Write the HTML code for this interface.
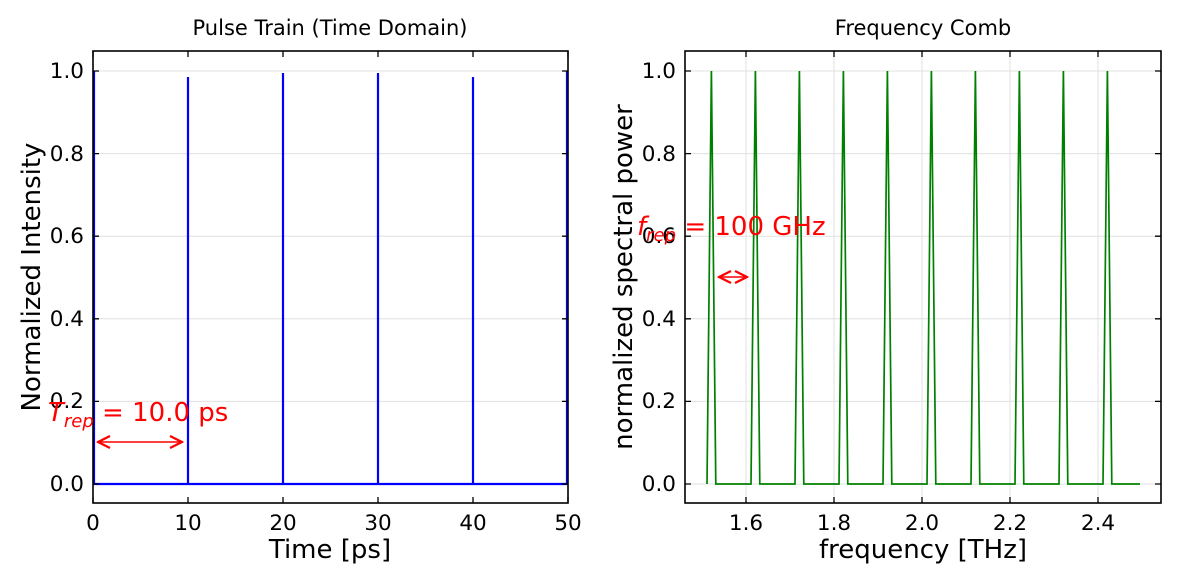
<!DOCTYPE html>
<html><head><style>body{margin:0;background:#fff}</style></head><body>
<svg width="1179" height="583" xmlns="http://www.w3.org/2000/svg" font-family="DejaVu Sans, Liberation Sans, sans-serif">
<defs><marker id="ah" markerWidth="10" markerHeight="10" refX="9" refY="5" orient="auto-start-reverse"><path d="M1,1 L9,5 L1,9" fill="none" stroke="red" stroke-width="1.5"/></marker></defs>
<g stroke="#e0e0e0" stroke-width="1">
<line x1="93" x2="568" y1="71" y2="71"/><line x1="93" x2="568" y1="153.6" y2="153.6"/><line x1="93" x2="568" y1="236.2" y2="236.2"/><line x1="93" x2="568" y1="318.8" y2="318.8"/><line x1="93" x2="568" y1="401.4" y2="401.4"/><line x1="93" x2="568" y1="484" y2="484"/>
<line x1="685" x2="1161" y1="71" y2="71"/><line x1="685" x2="1161" y1="153.6" y2="153.6"/><line x1="685" x2="1161" y1="236.2" y2="236.2"/><line x1="685" x2="1161" y1="318.8" y2="318.8"/><line x1="685" x2="1161" y1="401.4" y2="401.4"/><line x1="685" x2="1161" y1="484" y2="484"/>
<line x1="746" x2="746" y1="51" y2="503"/><line x1="834" x2="834" y1="51" y2="503"/><line x1="922" x2="922" y1="51" y2="503"/><line x1="1010" x2="1010" y1="51" y2="503"/><line x1="1098" x2="1098" y1="51" y2="503"/>
</g>
<g stroke="blue" stroke-width="2.2" fill="none">
<line x1="93" y1="484" x2="568" y2="484"/>
<line x1="94" y1="484" x2="94" y2="71"/>
<line x1="188" y1="484" x2="188" y2="77"/>
<line x1="283" y1="484" x2="283" y2="73"/>
<line x1="378" y1="484" x2="378" y2="73"/>
<line x1="473" y1="484" x2="473" y2="77"/>
<line x1="567" y1="484" x2="567" y2="71"/>
</g>
<path fill="none" stroke="green" stroke-width="1.7" d="M707,484 L711.4,71 L715.8,484 L751,484 L755.4,71 L759.8,484 L795,484 L799.4,71 L803.8,484 L839,484 L843.4,71 L847.8,484 L883,484 L887.4,71 L891.8,484 L927,484 L931.4,71 L935.8,484 L971,484 L975.4,71 L979.8,484 L1015,484 L1019.4,71 L1023.8,484 L1059,484 L1063.4,71 L1067.8,484 L1103,484 L1107.4,71 L1111.8,484 L1140,484"/>
<rect x="93" y="51" width="475" height="452" fill="none" stroke="#000" stroke-width="1.6"/>
<rect x="685" y="51" width="476" height="452" fill="none" stroke="#000" stroke-width="1.6"/>
<g stroke="#000" stroke-width="1.3">
<path d="M93,503v-6M188,503v-6M283,503v-6M378,503v-6M473,503v-6M568,503v-6M93,51v6M188,51v6M283,51v6M378,51v6M473,51v6M568,51v6"/>
<path d="M93,71h6M93,153.6h6M93,236.2h6M93,318.8h6M93,401.4h6M93,484h6M568,71h-6M568,153.6h-6M568,236.2h-6M568,318.8h-6M568,401.4h-6M568,484h-6"/>
<path d="M746,503v-6M834,503v-6M922,503v-6M1010,503v-6M1098,503v-6M746,51v6M834,51v6M922,51v6M1010,51v6M1098,51v6"/>
<path d="M685,71h6M685,153.6h6M685,236.2h6M685,318.8h6M685,401.4h6M685,484h6M1161,71h-6M1161,153.6h-6M1161,236.2h-6M1161,318.8h-6M1161,401.4h-6M1161,484h-6"/>
</g>
<g font-size="21.5" fill="#000">
<g text-anchor="end">
<text x="84" y="78">1.0</text><text x="84" y="161">0.8</text><text x="84" y="243">0.6</text><text x="84" y="326">0.4</text><text x="84" y="408">0.2</text><text x="84" y="491">0.0</text>
<text x="676" y="78">1.0</text><text x="676" y="161">0.8</text><text x="676" y="243">0.6</text><text x="676" y="326">0.4</text><text x="676" y="408">0.2</text><text x="676" y="491">0.0</text>
</g>
<g text-anchor="middle">
<text x="93" y="530">0</text><text x="188" y="530">10</text><text x="283" y="530">20</text><text x="378" y="530">30</text><text x="473" y="530">40</text><text x="568" y="530">50</text>
<text x="746" y="530">1.6</text><text x="834" y="530">1.8</text><text x="922" y="530">2.0</text><text x="1010" y="530">2.2</text><text x="1098" y="530">2.4</text>
</g>
</g>
<g font-size="26" text-anchor="middle">
<text x="330" y="558">Time [ps]</text>
<text x="923" y="558">frequency [THz]</text>
<text transform="translate(40,277) rotate(-90)">Normalized Intensity</text>
<text transform="translate(632,277) rotate(-90)">normalized spectral power</text>
</g>
<g font-size="21" text-anchor="middle">
<text x="330" y="35">Pulse Train (Time Domain)</text>
<text x="923" y="35">Frequency Comb</text>
</g>
<line x1="98" y1="442" x2="182" y2="442" stroke="red" stroke-width="1.5" marker-start="url(#ah)" marker-end="url(#ah)"/>
<text x="48" y="421" font-size="26" fill="red"><tspan font-style="italic">T</tspan><tspan font-style="italic" font-size="18" dy="6">rep</tspan><tspan dy="-6"> = 10.0 ps</tspan></text>
<line x1="719" y1="277" x2="747" y2="277" stroke="red" stroke-width="1.5" marker-start="url(#ah)" marker-end="url(#ah)"/>
<text x="637" y="235" font-size="26" fill="red"><tspan font-style="italic">f</tspan><tspan font-style="italic" font-size="18" dy="6">rep</tspan><tspan dy="-6"> = 100 GHz</tspan></text>
</svg>
</body></html>
